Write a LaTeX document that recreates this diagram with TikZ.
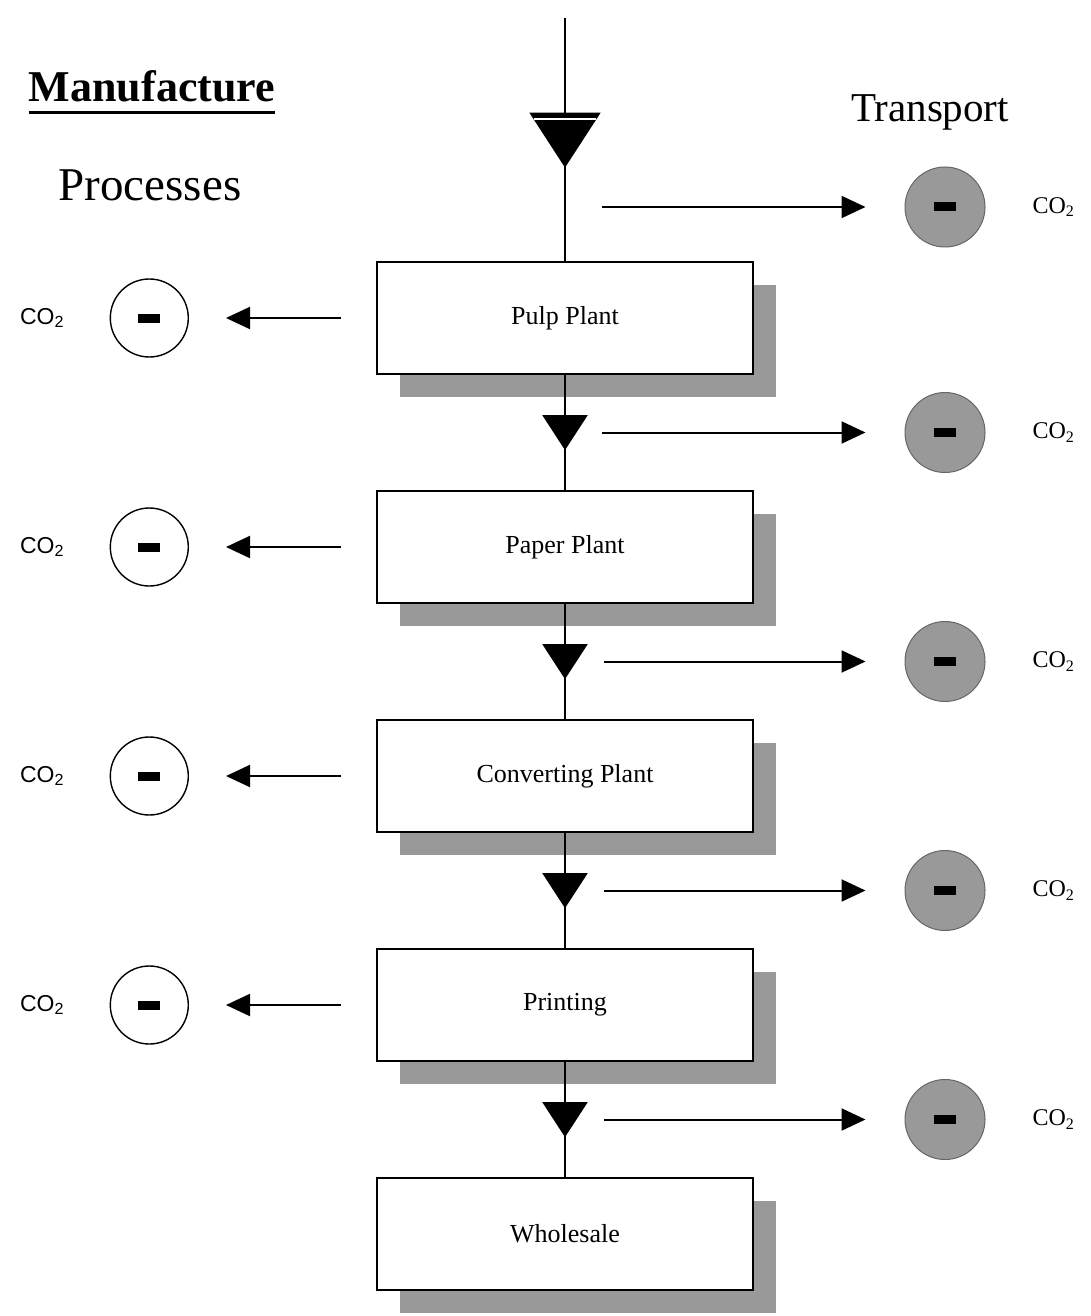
\documentclass[tikz,border=0pt]{standalone}
\usepackage{fontspec}
\setmainfont{Liberation Serif}
\newfontfamily\cosans{Liberation Sans}
\usetikzlibrary{arrows.meta,calc,positioning,shapes.geometric,shadows}

\begin{document}
\begin{tikzpicture}[
				x=0.5pt, y=-0.5pt,
				node distance=57.5pt,
				arrow/.style={line width=1pt, -{Triangle[length=12pt, width=11pt]}},
				link/.style={line width=1pt},
				plant/.style={draw, line width=1pt, fill=white, minimum width=188pt, minimum height=56pt, font=\fontsize{13}{15}\selectfont, drop shadow={shadow xshift=11.5pt, shadow yshift=-11.5pt, fill=black!40, opacity=1}},
				flow/.style={isosceles triangle, isosceles triangle apex angle=66, shape border rotate=270, fill=black, inner sep=0pt, minimum height=17.5pt},
				process/.style={circle, draw, line width=0.7pt, minimum size=39pt, inner sep=0pt},
				transport/.style={circle, draw=black!60, line width=0.5pt, fill=black!40, minimum size=40pt, inner sep=0pt},
				co2/.style={font=\fontsize{12}{14}\selectfont},
			]
				\useasboundingbox (0,0) rectangle (1091,1316);

				\node[font=\fontsize{22}{26}\selectfont\bfseries, inner xsep=0pt] (manufacture) at (152,86) {Manufacture};
				\node[font=\fontsize{23.5}{28}\selectfont] (processes) at (150,185) {Processes};
				\node[font=\fontsize{20.5}{24}\selectfont] (transport title) at (930,112) {Transport};
				\draw[line width=1.5pt] ([yshift=-2pt]manufacture.south west) -- ([yshift=-2pt]manufacture.south east);

				\node[plant] (pulp) at (565,318) {Pulp Plant};
				\node[plant, below=of pulp] (paper) {Paper Plant};
				\node[plant, below=of paper] (converting) {Converting Plant};
				\node[plant, below=of converting] (printing) {Printing};
				\node[plant, below=of printing] (wholesale) {Wholesale};

				\coordinate (source) at (565,18);
				\coordinate (split) at (565,207);
				\coordinate (transport axis) at (945,0);
				\coordinate (m1) at ($(pulp.south)!0.5!(paper.north)$);
				\coordinate (m2) at ($(paper.south)!0.5!(converting.north)$);
				\coordinate (m3) at ($(converting.south)!0.5!(printing.north)$);
				\coordinate (m4) at ($(printing.south)!0.5!(wholesale.north)$);
				\node[flow, minimum height=27.5pt] (t0) at (565,132) {};
				\node[flow] (t1) at ([yshift=2.5pt]m1) {};
				\node[flow] (t2) at ([yshift=2.5pt]m2) {};
				\node[flow] (t3) at ([yshift=2.5pt]m3) {};
				\node[flow] (t4) at ([yshift=2.5pt]m4) {};

				% transport emissions
				\node[transport] (tc0) at (transport axis |- split) {\rule{11pt}{4.5pt}};
				\node[transport] (tc1) at (transport axis |- m1) {\rule{11pt}{4.5pt}};
				\node[transport] (tc2) at (transport axis |- m2) {\rule{11pt}{4.5pt}};
				\node[transport] (tc3) at (transport axis |- m3) {\rule{11pt}{4.5pt}};
				\node[transport] (tc4) at (transport axis |- m4) {\rule{11pt}{4.5pt}};
				\node[co2, right=20pt of tc0] (co2 t0) {CO\textsubscript{2}};
				\node[co2, right=20pt of tc1] (co2 t1) {CO\textsubscript{2}};
				\node[co2, right=20pt of tc2] (co2 t2) {CO\textsubscript{2}};
				\node[co2, right=20pt of tc3] (co2 t3) {CO\textsubscript{2}};
				\node[co2, right=20pt of tc4] (co2 t4) {CO\textsubscript{2}};

				% process emissions
				\node[process, left=93.5pt of pulp] (pc1) {\rule{11pt}{4.5pt}};
				\node[process, left=93.5pt of paper] (pc2) {\rule{11pt}{4.5pt}};
				\node[process, left=93.5pt of converting] (pc3) {\rule{11pt}{4.5pt}};
				\node[process, left=93.5pt of printing] (pc4) {\rule{11pt}{4.5pt}};
				\node[co2, font=\cosans\fontsize{11.5}{13}\selectfont, left=19pt of pc1] (co2 p1) {CO\textsubscript{2}};
				\node[co2, font=\cosans\fontsize{11.5}{13}\selectfont, left=19pt of pc2] (co2 p2) {CO\textsubscript{2}};
				\node[co2, font=\cosans\fontsize{11.5}{13}\selectfont, left=19pt of pc3] (co2 p3) {CO\textsubscript{2}};
				\node[co2, font=\cosans\fontsize{11.5}{13}\selectfont, left=19pt of pc4] (co2 p4) {CO\textsubscript{2}};

				\draw[link] (source) -- (pulp);
				\draw[link] (pulp) -- (paper);
				\draw[link] (paper) -- (converting);
				\draw[link] (converting) -- (printing);
				\draw[link] (printing) -- (wholesale);
				\draw[white, line width=0.8pt, shorten <=2.5pt, shorten >=2.5pt] ([yshift=-3.5pt]t0.left corner) -- ([yshift=-3.5pt]t0.right corner);

				\draw[arrow] ([xshift=18.5pt]split) -- ([xshift=-19.5pt]tc0.west);
				\draw[arrow] ([xshift=18.5pt]m1) -- ([xshift=-19.5pt]tc1.west);
				\draw[arrow] ([xshift=19.5pt]m2) -- ([xshift=-19.5pt]tc2.west);
				\draw[arrow] ([xshift=19.5pt]m3) -- ([xshift=-19.5pt]tc3.west);
				\draw[arrow] ([xshift=19.5pt]m4) -- ([xshift=-19.5pt]tc4.west);

				\draw[arrow] ([xshift=-17.5pt]pulp.west) -- ([xshift=18.5pt]pc1.east);
				\draw[arrow] ([xshift=-17.5pt]paper.west) -- ([xshift=18.5pt]pc2.east);
				\draw[arrow] ([xshift=-17.5pt]converting.west) -- ([xshift=18.5pt]pc3.east);
				\draw[arrow] ([xshift=-17.5pt]printing.west) -- ([xshift=18.5pt]pc4.east);
			\end{tikzpicture}
\end{document}
